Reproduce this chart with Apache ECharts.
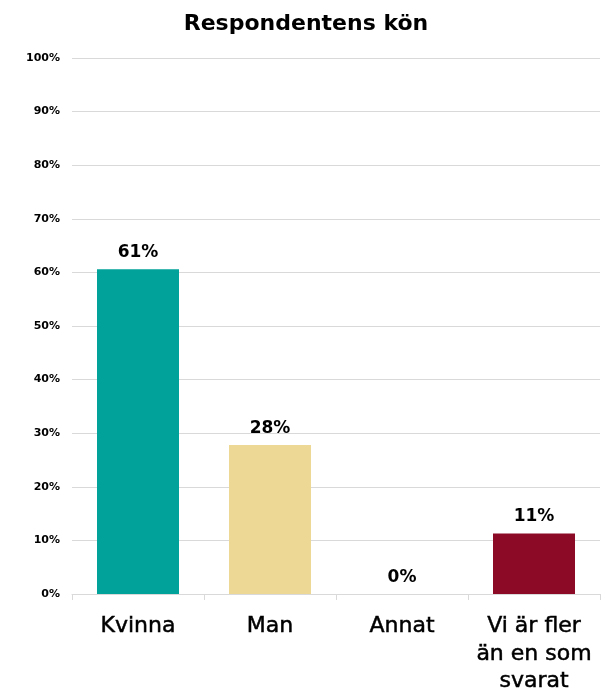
<!DOCTYPE html>
<html>
<head>
<meta charset="utf-8">
<script src="https://cdn.jsdelivr.net/npm/echarts@6/dist/echarts.min.js"></script>
<style>
  html, body { margin: 0; padding: 0; background: #fff; }
  #chart { width: 612px; height: 691px; }
</style>
</head>
<body>
<div id="chart"></div>
<script>
// data
var categories = ['Kvinna', 'Man', 'Annat', 'Vi är fler\nän en som\nsvarat'];
var shares = [60.6, 27.8, 0, 11.3];
var shareLabels = ['61%', '28%', '0%', '11%'];
var barColors = ['#00A29A', '#EDD895', '#EDD895', '#8C0A26'];

var myChart = echarts.init(document.getElementById('chart'));
var option = {
    animation: false,
    title: {
        text: 'Respondentens kön',
        left: 'center',
        top: 8,
        textStyle: { fontFamily: 'DejaVu Sans', fontSize: 22, fontWeight: 'bold', color: '#000' }
    },
    grid: { left: 72, right: 12, top: 58, bottom: 97, outerBoundsMode: 'none' },
    xAxis: {
        type: 'category',
        data: categories,
        axisLine: { lineStyle: { color: '#d9d9d9', width: 1 } },
        axisTick: { show: true, length: 6, lineStyle: { color: '#d9d9d9' } },
        axisLabel: {
            interval: 0,
            margin: 19,
            fontFamily: 'DejaVu Sans',
            fontSize: 22,
            lineHeight: 27.5,
            color: '#000',
            textBorderColor: '#000',
            textBorderWidth: 0.5
        }
    },
    yAxis: {
        type: 'value',
        min: 0,
        max: 100,
        interval: 10,
        axisLine: { show: false },
        axisTick: { show: false },
        splitLine: { lineStyle: { color: '#d9d9d9' } },
        axisLabel: {
            margin: 12,
            formatter: '{value}%',
            fontFamily: 'DejaVu Sans',
            fontWeight: 'bold',
            fontSize: 11,
            color: '#000'
        }
    },
    series: [{
        type: 'bar',
        barWidth: 82,
        data: shares.map(function (v, i) {
            return { value: v, itemStyle: { color: barColors[i] } };
        }),
        label: {
            show: true,
            position: 'top',
            distance: 8,
            formatter: function (p) { return shareLabels[p.dataIndex]; },
            fontFamily: 'DejaVu Sans',
            fontWeight: 'bold',
            fontSize: 17,
            color: '#000'
        }
    }]
};
myChart.setOption(option);
</script>
</body>
</html>
